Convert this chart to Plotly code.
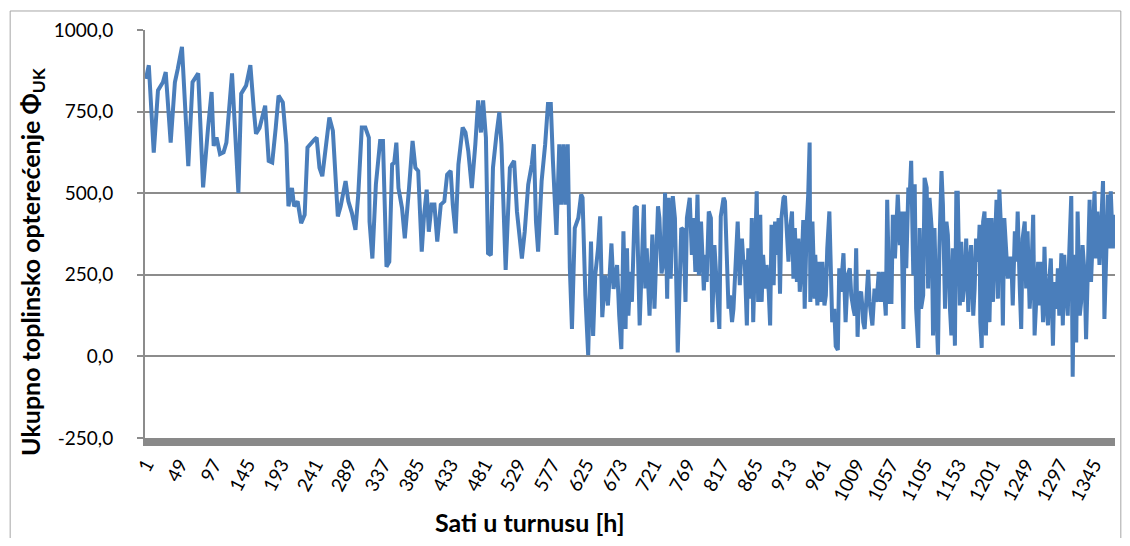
import plotly.graph_objects as go

# ---------------- data ----------------
hours = [
    1, 5, 12, 18, 25, 29, 36, 42, 46, 52, 61, 67, 75, 82, 89, 94, 97, 101, 106, 111, 115, 120, 123, 132, 136, 143, 149, 154, 157, 162, 168,
    170, 175, 180, 185, 189, 195, 200, 203, 208, 211, 216, 221, 226, 230, 235, 240, 243, 247, 251, 255, 261, 266, 269, 273, 277, 284, 288, 293, 298, 302, 307, 312, 317, 318, 322, 327, 333, 337,
    342, 346, 350, 353, 356, 359, 364, 368, 374, 379, 383, 387, 392, 395, 399, 402, 406, 410, 414, 419, 424, 428, 433, 436, 440, 444, 450, 454, 458, 463, 468, 472, 476, 479, 483, 486, 490, 493, 498, 502, 505,
    511, 517, 523, 527, 534, 538, 543, 548, 551, 554, 557, 562, 567, 571, 575, 578, 583, 587, 590, 593, 596, 599, 602, 605, 609, 614, 618, 620, 624, 628, 632, 635, 638, 642, 645, 648, 652, 656, 661, 664, 669, 672, 675,
    678, 681, 683, 685, 688, 690, 694, 697, 701, 703, 707, 709, 711, 715, 719, 722, 725, 727, 729, 732, 735, 737, 740, 742, 745, 748, 751, 753, 755, 757, 760, 763, 766, 768, 772, 775, 777, 780, 783, 785, 788, 792, 794, 796, 799, 802, 804, 807, 810, 814, 816, 820, 822, 825, 827, 829, 832, 834, 837, 840, 843, 846, 848,
    850, 853, 855, 858, 860, 862, 865, 867, 869, 872, 874, 876, 879, 881, 884, 886, 888, 891, 893, 895, 898, 900, 902, 905, 907, 909, 912, 914, 917, 919, 921, 924, 926, 928, 931, 933, 935, 938, 940, 942, 943, 946, 949, 950, 953, 956, 958, 960, 963, 965, 967, 970, 972, 974, 977, 979, 982, 984, 986, 990, 993, 996, 999, 1001, 1004, 1006, 1008, 1010, 1012, 1015, 1017, 1018,
    1020, 1023, 1025, 1027, 1031, 1034, 1037, 1040, 1043, 1046, 1050, 1052, 1055, 1058, 1060, 1063, 1065, 1067, 1070, 1072, 1075, 1077, 1079, 1082, 1084, 1086, 1089, 1091, 1093, 1096, 1098, 1100, 1103, 1105, 1108, 1110, 1112, 1115, 1117, 1119, 1122, 1124, 1126, 1129, 1131, 1134, 1136, 1138, 1141, 1143, 1145, 1148, 1150, 1152, 1155, 1157, 1159, 1162, 1164, 1167, 1169, 1171, 1174, 1176, 1178, 1181, 1183, 1184, 1186, 1188,
    1190, 1192, 1195, 1197, 1200, 1202, 1204, 1207, 1209, 1211, 1214, 1216, 1218, 1221, 1223, 1225, 1228, 1230, 1233, 1235, 1237, 1240, 1242, 1244, 1247, 1249, 1251, 1254, 1256, 1259, 1261, 1263, 1266, 1268, 1270, 1273, 1275, 1277, 1280, 1282, 1284, 1287, 1289, 1292, 1294, 1296, 1299, 1301, 1303, 1306, 1308, 1310, 1313, 1315, 1317, 1320, 1322, 1325, 1327, 1329, 1332, 1334, 1336, 1339, 1341, 1343, 1346, 1348, 1350, 1353, 1355, 1358, 1360, 1362, 1365, 1367, 1369, 1372, 1374,
]

load_kw = [
    850, 892, 624, 815, 840, 871, 655, 840, 880, 948, 583, 840, 867, 518, 700, 810, 645, 671, 620, 625, 655, 794, 867, 501, 805, 830, 892, 753, 682, 700, 744,
    768, 599, 594, 701, 799, 778, 650, 460, 516, 460, 475, 408, 434, 640, 655, 665, 670, 578, 552, 619, 732, 691, 568, 429, 460, 537, 475, 439, 388, 496, 701, 701, 670, 413, 300, 527, 660, 660,
    275, 290, 588, 594, 655, 516, 455, 362, 516, 660, 578, 568, 321, 424, 511, 382, 465, 465, 352, 465, 475, 557, 568, 465, 377, 588, 701, 686, 629, 516, 650, 784, 686, 784, 670, 316, 310, 578, 681, 748, 650,
    265, 578, 599, 444, 300, 382, 527, 588, 650, 413, 321, 537, 650, 773, 773, 599, 372, 650, 465, 650, 465, 650, 270, 84, 393, 424, 496, 486, 187, 4, 352, 63, 248, 331, 429, 120, 248, 156, 346, 207, 280, 125, 22,
    383, 84, 331, 125, 259, 167, 455, 460, 95, 208, 465, 208, 331, 125, 373, 146, 383, 460, 424, 254, 290, 501, 177, 486, 238, 491, 424, 270, 12, 167, 393, 388, 167, 424, 486, 311, 424, 259, 496, 249, 413, 202, 311, 228, 444, 424, 105, 341, 228, 84, 429, 486, 475, 300, 146, 187, 105, 146, 259, 413, 218, 361, 290,
    290, 95, 331, 177, 424, 105, 434, 506, 167, 434, 167, 311, 208, 280, 198, 95, 403, 218, 413, 311, 424, 192, 424, 486, 491, 413, 290, 383, 444, 238, 393, 228, 361, 198, 300, 418, 146, 413, 496, 655, 167, 413, 177, 311, 156, 290, 167, 290, 156, 187, 331, 444, 198, 105, 146, 31, 20, 270, 198, 316, 105, 249, 270, 187, 146, 125, 331, 60, 187, 198, 146, 105,
    84, 218, 265, 167, 95, 208, 167, 259, 167, 259, 125, 480, 167, 167, 434, 300, 434, 496, 341, 444, 84, 444, 270, 517, 496, 599, 249, 527, 146, 26, 393, 146, 187, 547, 517, 208, 486, 393, 64, 393, 125, 5, 331, 568, 465, 146, 413, 372, 146, 64, 331, 33, 501, 501, 156, 351, 167, 238, 361, 136, 280, 341, 125, 208, 361, 290, 403, 105, 26, 413,
    444, 64, 424, 105, 424, 167, 300, 480, 177, 511, 361, 95, 424, 311, 238, 300, 300, 156, 383, 290, 444, 208, 84, 361, 413, 208, 383, 146, 228, 434, 64, 156, 290, 156, 290, 105, 336, 177, 95, 238, 300, 33, 228, 146, 270, 125, 316, 95, 311, 187, 125, 311, 491, -62, 311, 43, 444, 125, 167, 341, 249, 53, 270, 480, 228, 331, 506, 300, 444, 280, 424, 537, 115, 280, 496, 331, 506, 331, 434,
]

x_tick_vals = list(range(1, 1346, 48))
x_tick_text = [str(v) for v in x_tick_vals]

y_tick_vals = [-250, 0, 250, 500, 750, 1000]
y_tick_text = ["-250,0", "0,0", "250,0", "500,0", "750,0", "1000,0"]

y_title = "Ukupno toplinsko opterećenje Φ<sub>UK</sub>"
x_title = "Sati u turnusu [h]"

# ---------------- figure ----------------
FONT = "Lato"
GRID = "#8c8c8c"

fig = go.Figure()
fig.add_trace(go.Scatter(
    x=hours, y=load_kw, mode="lines",
    line=dict(color="#4a7ebb", width=4),
    hoverinfo="x+y", showlegend=False,
))

# page body has an 8px margin: figure fills 1114x530 at offset (8, 8)
fig.update_layout(
    width=1114, height=530, autosize=False,
    margin=dict(l=137, r=7, t=22, b=100, pad=0),
    paper_bgcolor="white", plot_bgcolor="white",
    font=dict(family=FONT, size=19, color="black"),
    xaxis=dict(
        range=[-0.4, 1375], tickmode="array",
        tickvals=x_tick_vals, ticktext=x_tick_text,
        tickangle=-62, showgrid=False, zeroline=False,
        showline=True, linecolor="#898989", linewidth=8,
        ticks="", tickfont=dict(size=19),
    ),
    yaxis=dict(
        range=[-250, 1000], tickmode="array",
        tickvals=y_tick_vals, ticktext=y_tick_text,
        showgrid=True, gridcolor=GRID, gridwidth=1.5,
        zeroline=False, showline=True, linecolor=GRID, linewidth=2,
        ticks="outside", ticklen=6, tickcolor=GRID, tickwidth=1.5,
        ticklabelstandoff=20, tickfont=dict(size=19),
    ),
    annotations=[
        dict(text="<b>" + y_title + "</b>", xref="paper", yref="paper",
             x=-0.1165, y=0.434, textangle=-90, showarrow=False,
             font=dict(family=FONT, size=25, color="black"),
             xanchor="center", yanchor="middle"),
        dict(text="<b>" + x_title + "</b>", xref="paper", yref="paper",
             x=0.397, y=-0.205, showarrow=False,
             font=dict(family=FONT, size=25, color="black"),
             xanchor="center", yanchor="middle"),
    ],
)

# outer chart frame
for (x0, y0, x1, y1) in [(-0.139, -0.3, -0.139, 1.0466), (-0.139, 1.0466, 1.006, 1.0466),
                         (1.006, -0.3, 1.006, 1.0466)]:
    fig.add_shape(type="line", xref="paper", yref="paper", x0=x0, y0=y0, x1=x1, y1=y1,
                  line=dict(color="#a6a6a6", width=1))

fig.write_html("out.html")
